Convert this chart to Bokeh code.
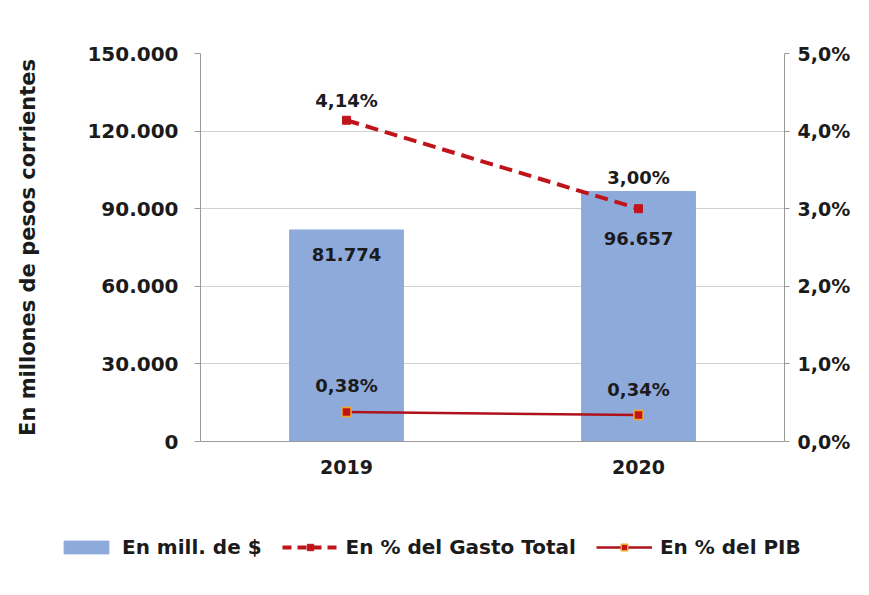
from bokeh.plotting import figure
from bokeh.layouts import column
from bokeh.models import (Range1d, LinearAxis, FactorRange, ColumnDataSource,
                          CustomJSTickFormatter, Legend, LegendItem)
from bokeh.core.properties import value
from bokeh.embed import file_html
from bokeh.resources import INLINE

# ---- data ----
years = ["2019", "2020"]
gasto_mill = [81774, 96657]
pct_gasto_total = [4.14, 3.00]
pct_pib = [0.38, 0.34]
left_ticks = [0, 30000, 60000, 90000, 120000, 150000]
right_ticks = [0, 1, 2, 3, 4, 5]
legend_labels = ["En mill. de $", "En % del Gasto Total", "En % del PIB"]

FONT = value("DejaVu Sans")
TXT = "#1b1b1b"
BAR = "#8eaadb"
RED = "#c0141b"
PIBRED = "#b0121c"
ORANGE = "#f5a623"

src = ColumnDataSource(dict(
    year=years,
    mill=gasto_mill,
    mill_lbl=[f"{v:,}".replace(",", ".") for v in gasto_mill],
    mill_off=[25, 47],
    gt=pct_gasto_total,
    gt_lbl=[f"{v:.2f}".replace(".", ",") + "%" for v in pct_gasto_total],
    gt_off=[-20, -31],
    pib=pct_pib,
    pib_lbl=[f"{v:.2f}".replace(".", ",") + "%" for v in pct_pib],
    pib_off=[-27, -26],
))

W = 853
p = figure(x_range=FactorRange(*years, range_padding=0), y_range=Range1d(0, 150000),
           width=W, height=491, output_backend="svg", toolbar_location=None,
           min_border_left=200, min_border_right=64, min_border_top=53, min_border_bottom=50)
p.frame_align = False
p.extra_y_ranges = {"pct": Range1d(0, 5)}
p.outline_line_color = None
p.background_fill_color = "white"
p.border_fill_color = "white"

p.vbar(x="year", top="mill", width=0.39, source=src, color=BAR)

p.line(x="year", y="gt", source=src, y_range_name="pct", line_color=RED,
       line_width=4, line_dash="13 7")
p.scatter(x="year", y="gt", source=src, y_range_name="pct", marker="square",
          size=8, fill_color=RED, line_color=RED)
p.line(x="year", y="pib", source=src, y_range_name="pct", line_color=PIBRED,
       line_width=2.5)
p.scatter(x="year", y="pib", source=src, y_range_name="pct", marker="square",
          size=9, fill_color=RED, line_color=ORANGE, line_width=1.5)

common = dict(text_font=FONT, text_font_style="bold", text_font_size="18px",
              text_color=TXT, text_align="center", text_baseline="middle", source=src)
p.text(x="year", y="mill", text="mill_lbl", y_offset="mill_off", **common)
p.text(x="year", y="gt", text="gt_lbl", y_offset="gt_off", y_range_name="pct", **common)
p.text(x="year", y="pib", text="pib_lbl", y_offset="pib_off", y_range_name="pct", **common)

# left axis
ya = p.yaxis[0]
ya.ticker = left_ticks
ya.formatter = CustomJSTickFormatter(
    code="return Math.round(tick).toString().replace(/\\B(?=(\\d{3})+(?!\\d))/g, '.');")
ya.axis_label = "En millones de pesos corrientes"
ya.axis_label_text_font = "DejaVu Sans"
ya.axis_label_text_font_style = "bold"
ya.axis_label_text_font_size = "21px"
ya.axis_label_text_color = TXT
ya.axis_label_standoff = 44
ya.major_label_text_font = "DejaVu Sans"
ya.major_label_text_font_style = "bold"
ya.major_label_text_font_size = "20px"
ya.major_label_text_color = TXT
ya.major_label_standoff = 16
ya.axis_line_color = "#9a9a9a"
ya.major_tick_line_color = "#9a9a9a"
ya.major_tick_out = 6
ya.major_tick_in = 0
ya.minor_tick_line_color = None

# right axis
ra = LinearAxis(y_range_name="pct", ticker=right_ticks,
                formatter=CustomJSTickFormatter(
                    code="return tick.toFixed(1).replace('.', ',') + '%';"))
ra.major_label_text_font = "DejaVu Sans"
ra.major_label_text_font_style = "bold"
ra.major_label_text_font_size = "19px"
ra.major_label_text_color = TXT
ra.major_label_standoff = 8
ra.axis_line_color = "#9a9a9a"
ra.major_tick_line_color = "#9a9a9a"
ra.major_tick_out = 5
ra.major_tick_in = 0
ra.minor_tick_line_color = None
p.add_layout(ra, "right")

# x axis
xa = p.xaxis[0]
xa.major_label_text_font = "DejaVu Sans"
xa.major_label_text_font_style = "bold"
xa.major_label_text_font_size = "19px"
xa.major_label_text_color = TXT
xa.major_label_standoff = 12
xa.axis_line_color = "#9a9a9a"
xa.major_tick_line_color = None

p.xgrid.grid_line_color = None
p.ygrid.ticker = left_ticks
p.ygrid.grid_line_color = "#d0d0d0"
p.ygrid.grid_line_width = 1

# legend strip: key glyphs share the chart's source but fall outside this strip's ranges
lg = figure(width=W, height=88, x_range=FactorRange(*years),
            y_range=Range1d(1e7, 1e7 + 1),
            output_backend="svg", toolbar_location=None,
            x_axis_location=None, y_axis_location=None,
            min_border_left=0, min_border_right=0, min_border_top=0, min_border_bottom=0)
lg.frame_align = False
lg.outline_line_color = None
lg.xgrid.grid_line_color = None
lg.ygrid.grid_line_color = None
k_bar = lg.vbar(x="year", top="mill", width=0.39, source=src, color=BAR)
k_gt_l = lg.line(x="year", y="gt", source=src, line_color=RED, line_width=4, line_dash="9 6")
k_gt_p = lg.scatter(x="year", y="gt", source=src, marker="square", size=8,
                    fill_color=RED, line_color=RED)
k_pib_l = lg.line(x="year", y="pib", source=src, line_color=PIBRED, line_width=2.5)
k_pib_p = lg.scatter(x="year", y="pib", source=src, marker="square", size=9,
                     fill_color=RED, line_color=ORANGE, line_width=1.5)

legend = Legend(items=[
    LegendItem(label=legend_labels[0], renderers=[k_bar]),
    LegendItem(label=legend_labels[1], renderers=[k_gt_l, k_gt_p]),
    LegendItem(label=legend_labels[2], renderers=[k_pib_l, k_pib_p]),
], orientation="horizontal", location=(58, 20))
legend.label_text_font = "DejaVu Sans"
legend.label_text_font_style = "bold"
legend.label_text_font_size = "20px"
legend.label_text_color = TXT
legend.glyph_width = 56
legend.glyph_height = 16
legend.label_standoff = 8
legend.spacing = 20
legend.border_line_color = None
legend.background_fill_alpha = 0
lg.add_layout(legend, "center")

layout = column(p, lg, spacing=0)
open("out.html", "w").write(file_html(layout, INLINE))
